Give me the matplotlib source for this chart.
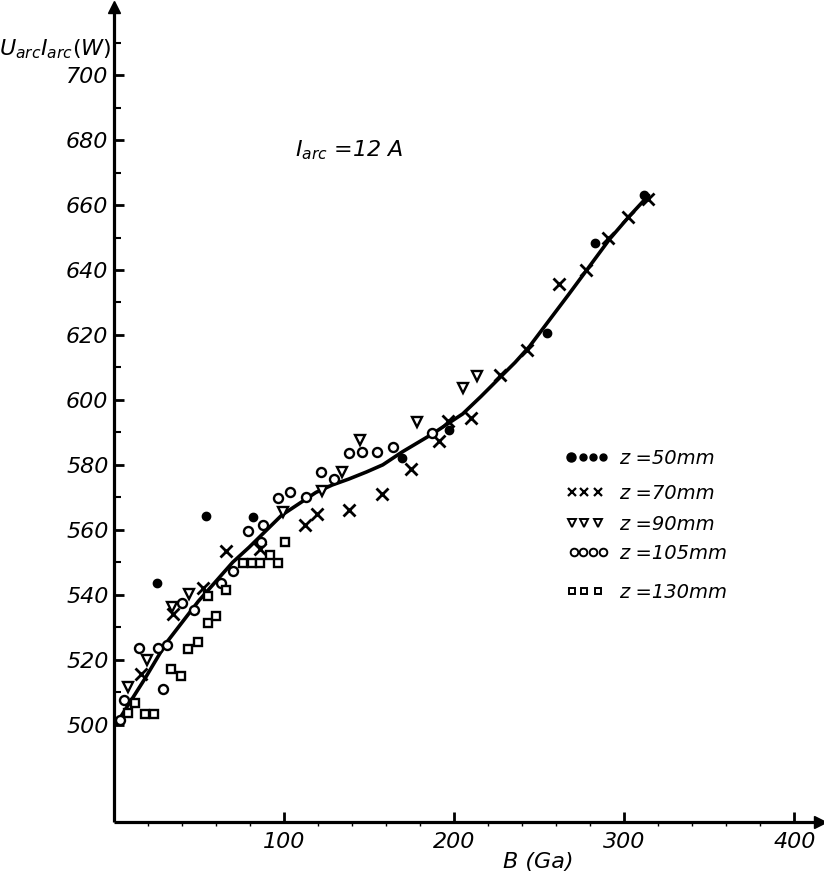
import matplotlib

matplotlib.use("Agg")
import matplotlib.pyplot as plt

# ── values ──
# z = 50 mm, filled dots
b_50 = [25.1, 54.0, 82.0, 169.2, 196.8, 254.3, 283.0, 311.5]
p_50 = [543.5, 564.1, 563.8, 582.0, 590.7, 620.7, 648.4, 663.0]

# z = 70 mm, crosses
b_70 = [15.9, 34.7, 52.3, 66.0, 85.6, 112.4, 119.6, 138.3, 157.4, 174.5,
        190.8, 196.1, 209.7, 226.9, 242.8, 261.8, 277.5, 290.3, 302.2, 313.7]
p_70 = [515.6, 534.0, 542.2, 553.4, 554.2, 561.5, 564.9, 566.0, 570.9, 578.8,
        587.4, 593.5, 594.4, 607.7, 615.4, 635.8, 640.0, 650.0, 656.3, 662.0]

# z = 90 mm, triangles
b_90 = [8.4, 19.5, 34.3, 43.9, 99.2, 122.3, 134.0, 144.7, 178.3, 205.0, 213.3]
p_90 = [511.7, 519.8, 536.1, 540.1, 565.4, 571.8, 577.7, 587.7, 593.3, 603.6, 607.4]

# z = 105 mm, open circles
b_105 = [3.5, 6.0, 14.5, 25.6, 28.6, 31.0, 39.7, 46.8, 62.7, 70.2, 78.6, 86.7,
         87.6, 96.2, 103.2, 112.6, 121.6, 129.1, 138.4, 146.0, 154.6, 164.2, 186.8]
p_105 = [501.5, 507.7, 523.7, 523.6, 511.0, 524.5, 537.6, 535.3, 543.7, 547.4,
         559.7, 556.2, 561.5, 569.7, 571.7, 570.0, 577.7, 575.6, 583.7, 583.9,
         584.0, 585.5, 589.7]

# z = 130 mm, squares
b_130 = [8.1, 12.5, 18.3, 23.3, 33.5, 39.4, 43.6, 49.4, 55.1, 55.0, 59.8, 66.0,
         75.8, 80.9, 85.6, 91.7, 96.5, 100.7]
p_130 = [503.6, 506.7, 503.2, 503.2, 517.0, 515.0, 523.4, 525.3, 531.2, 539.5,
         533.5, 541.5, 549.8, 549.8, 549.8, 552.3, 549.8, 556.3]

# hand-drawn fit curve, traced
b_fit = [1.7, 6.5, 18.0, 30.5, 49.6, 69.8, 79.4, 98.6, 108.1, 118.7, 128.3,
         137.9, 148.4, 158.0, 169.5, 186.8, 205.0, 215.6, 226.1, 235.7, 244.3,
         255.8, 267.3, 277.9, 291.3, 302.8, 314.3]
p_fit = [500.5, 504.5, 514, 525, 538, 550, 554.6, 564.5, 567.8, 571.5, 573.8,
         575.6, 577.8, 580, 584, 589.4, 595.7, 601, 606.5, 611.5, 616.5, 624.5,
         632.5, 640, 649.5, 656.5, 663]

legend_labels = ["z =50mm", "z =70mm", "z =90mm", "z =105mm", "z =130mm"]
x_ticks = [100, 200, 300, 400]
y_ticks = list(range(500, 701, 20))

FONT = "DejaVu Sans"
W, H = 824, 889


def fx(px):
    return px / W


def fy(py):
    return 1 - py / H


fig = plt.figure(figsize=(W / 100, H / 100), dpi=100)
ax = fig.add_axes([fx(114), fy(822), fx(820) - fx(114), fy(7) - fy(822)])
ax.set_xlim(0, 415)
ax.set_ylim(470, 721)

for side in ("top", "right"):
    ax.spines[side].set_visible(False)
for side in ("left", "bottom"):
    ax.spines[side].set_linewidth(2.3)
    ax.spines[side].set_capstyle("butt")

# arrow heads on the axes
ax.plot(1, 0, marker=">", color="black", ms=8, transform=ax.transAxes, clip_on=False)
ax.plot(0, 1, marker="^", color="black", ms=8, transform=ax.transAxes, clip_on=False)

ax.set_xticks(x_ticks)
ax.set_xticklabels([str(v) for v in x_ticks], fontsize=16, style="italic", family=FONT)
ax.set_xticks(range(20, 415, 20), minor=True)
ax.set_yticks(y_ticks)
ax.set_yticklabels([str(v) for v in y_ticks], fontsize=16, style="italic", family=FONT)
ax.set_yticks([v for v in range(510, 711, 10) if v % 20], minor=True)
ax.tick_params(axis="both", which="major", direction="in", length=7, width=2)
ax.tick_params(axis="y", which="major", pad=4)
ax.tick_params(axis="x", which="major", pad=7)
ax.tick_params(axis="y", which="minor", direction="in", length=5, width=1.5)
ax.tick_params(axis="x", which="minor", direction="out", length=3, width=1)

# ── fit curve and measured points ──
ax.plot(b_fit, p_fit, color="black", lw=2.6, solid_joinstyle="round",
        solid_capstyle="round", zorder=3)
ax.plot(b_50, p_50, "o", ms=6, color="black", zorder=4)
ax.plot(b_70, p_70, "x", ms=8.5, mew=2.0, color="black", zorder=4)
ax.plot(b_90, p_90, "v", ms=6.5, mfc="white", mec="black", mew=1.7, zorder=4)
ax.plot(b_105, p_105, "o", ms=6.5, mfc="white", mec="black", mew=1.7, zorder=4)
ax.plot(b_130, p_130, "s", ms=5.5, mfc="white", mec="black", mew=1.7, zorder=4)

# ── labels ──
fig.text(fx(538), fy(868), "B (Ga)", fontsize=16, style="italic", family=FONT,
         ha="center", va="baseline")
fig.text(fx(111), fy(55), r"$U_{arc}I_{arc}(W)$", fontsize=16, ha="right",
         va="baseline")
ax.text(106.5, 675, r"$I_{arc}$ =12 A", fontsize=16, style="italic", family=FONT,
        ha="left", va="baseline")

# ── hand-made legend (symbols repeated like the original) ──
rows_y = [457, 492, 523, 552, 591]
sym_x = [[571, 583, 593, 603], [572, 584, 598], [572, 584, 598],
         [574, 583, 593, 603], [572, 584, 598]]
styles = [
    dict(marker="o", ms=5, color="black"),
    dict(marker="x", ms=5.5, mew=1.6, color="black"),
    dict(marker="v", ms=5.5, mfc="white", mec="black", mew=1.4),
    dict(marker="o", ms=5.5, mfc="white", mec="black", mew=1.4),
    dict(marker="s", ms=5, mfc="white", mec="black", mew=1.4),
]
for ry, xs, st, label in zip(rows_y, sym_x, styles, legend_labels):
    for i, sx in enumerate(xs):
        kw = dict(st)
        if label == legend_labels[0] and i == 0:
            kw["ms"] = 6.5
        fig.lines.append(plt.Line2D([fx(sx)], [fy(ry)], transform=fig.transFigure,
                                    linestyle="none", **kw))
    fig.text(fx(619), fy(ry + 7), label, fontsize=14, style="italic", family=FONT,
             ha="left", va="baseline")

fig.savefig("out.png", dpi=100, facecolor="white")
